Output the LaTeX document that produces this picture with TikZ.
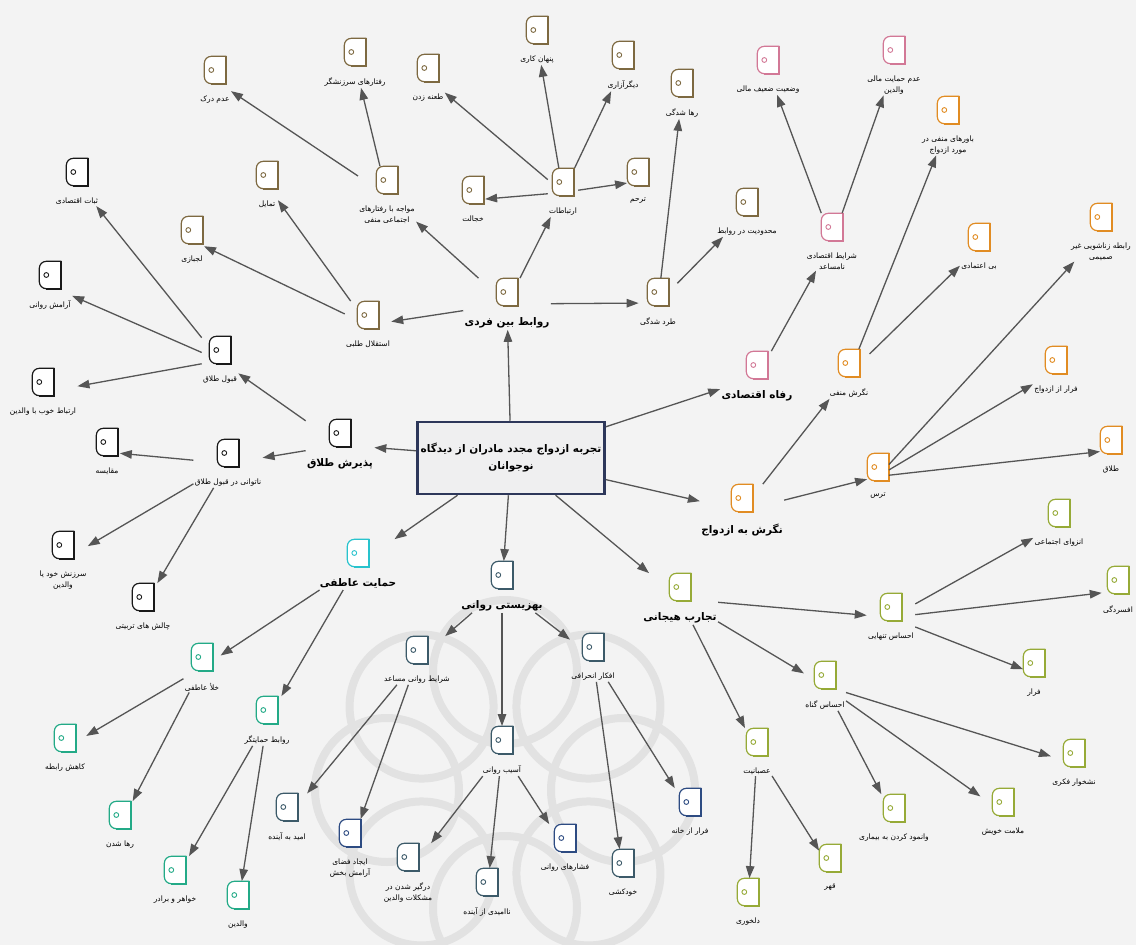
\documentclass[tikz,border=0pt]{standalone}
\usepackage{fontspec}
\usepackage{tikz}
\usetikzlibrary{positioning, arrows.meta, fit}
\TeXXeTstate=1
\newfontfamily\arabicfont[Script=Arabic]{DejaVu Sans}
\newcommand{\fa}[1]{{\arabicfont\beginR #1\endR}}

\definecolor{brownc}{RGB}{125,105,65}
\definecolor{blackc}{RGB}{25,25,25}
\definecolor{cyanc}{RGB}{40,195,205}
\definecolor{tealc}{RGB}{35,170,135}
\definecolor{slatec}{RGB}{60,90,105}
\definecolor{navyc}{RGB}{45,75,130}
\definecolor{greenc}{RGB}{150,170,55}
\definecolor{orangec}{RGB}{225,140,35}
\definecolor{pinkc}{RGB}{210,120,150}
\definecolor{arrowc}{RGB}{85,85,85}
\definecolor{bgc}{RGB}{243,243,243}
\definecolor{wmarkc}{RGB}{226,226,226}
\definecolor{boxc}{RGB}{45,55,90}

% one concept: icon, label under it, frame round both
\newcommand{\concept}[5][tagtext]{%
  \node[tagicon] (#2-i) at (#3) {};
  \draw[tagline=#4] (#2-i.north east) -- ([xshift=7pt]#2-i.north west)
    arc[start angle=90, end angle=180, radius=7pt] -- ([yshift=7pt]#2-i.south west)
    arc[start angle=180, end angle=270, radius=7pt] -- (#2-i.south east) -- cycle;
  \draw[#4, line width=2.2pt] (#2-i.north east) -- (#2-i.south east) -- ([xshift=7pt]#2-i.south west);
  \draw[#4, line width=0.9pt] ([xshift=7pt]#2-i.west) circle[radius=2.4pt];
  \node[#1, below=of #2-i] (#2-t) {#5};
  \node[group, fit=(#2-i)(#2-t)] (#2) {};
}

\begin{document}
\begin{tikzpicture}[x=1pt, y=-1pt, node distance=11pt,
    tagicon/.style={minimum width=21pt, minimum height=27pt, inner sep=0pt},
    tagline/.style={draw=#1, fill=white, line width=1.2pt},
    tagtext/.style={font=\fontsize{7.5}{10.5}\selectfont, align=center, inner sep=1pt},
    headtext/.style={font=\fontsize{10.5}{12}\selectfont\bfseries, align=center, inner sep=1pt},
    group/.style={inner sep=0pt},
    mainbox/.style={draw=boxc, line width=2.5pt, fill=blue!4!gray!12,
      minimum width=176pt, minimum height=72pt, align=center,
      font=\fontsize{10.5}{17}\selectfont\bfseries},
    wmark/.style={draw=wmarkc, line width=8pt},
    arrow/.style={draw=arrowc, line width=1.3pt, -{Triangle[length=12pt, width=8.5pt]}}]

  % background
  \fill[bgc] (0,0) rectangle (1136,945);
  \useasboundingbox (0,0) rectangle (1136,945);
  \begin{scope}
    \clip (0,0) rectangle (1136,945);
    \foreach \a in {0,45,...,315}
      \draw[wmark] (505,790) ++(\a:118) circle[radius=72];
  \end{scope}

  % core
  \node[mainbox] (main) at (511,458) {\fa{تجربه ازدواج مجدد مادران از دیدگاه}\\\fa{نوجوانان}};

  % themes
  \concept[headtext]{rb}{507,292}{brownc}{\fa{روابط بین فردی}}
  \concept[headtext]{pt}{340,433}{blackc}{\fa{پذیرش طلاق}}
  \concept[headtext]{ha}{358,553}{cyanc}{\fa{حمایت عاطفی}}
  \concept[headtext]{br}{502,575}{slatec}{\fa{بهزیستی روانی}}
  \concept[headtext]{th}{680,587}{greenc}{\fa{تجارب هیجانی}}
  \concept[headtext]{ne}{742,498}{orangec}{\fa{نگرش به ازدواج}}
  \concept[headtext]{re}{757,365}{pinkc}{\fa{رفاه اقتصادی}}

  % interpersonal relations
  \concept{rb-est}{368,315}{brownc}{\fa{استقلال طلبی}}
  \concept{rb-tam}{267,175}{brownc}{\fa{تمایل}}
  \concept{rb-laj}{192,230}{brownc}{\fa{لجبازی}}
  \concept{rb-mov}{387,180}{brownc}{\fa{مواجه با رفتارهای}\\\fa{اجتماعی منفی}}
  \concept{rb-adm}{215,70}{brownc}{\fa{عدم درک}}
  \concept{rb-sar}{355,52}{brownc}{\fa{رفتارهای سرزنشگر}}
  \concept{rb-ert}{563,182}{brownc}{\fa{ارتباطات}}
  \concept{rb-tan}{428,68}{brownc}{\fa{طعنه زدن}}
  \concept{rb-pen}{537,30}{brownc}{\fa{پنهان کاری}}
  \concept{rb-dig}{623,55}{brownc}{\fa{دیگرآزاری}}
  \concept{rb-khe}{473,190}{brownc}{\fa{خجالت}}
  \concept{rb-tar}{638,172}{brownc}{\fa{ترحم}}
  \concept{rb-tard}{658,292}{brownc}{\fa{طرد شدگی}}
  \concept{rb-raha}{682,83}{brownc}{\fa{رها شدگی}}
  \concept{rb-mah}{747,202}{brownc}{\fa{محدودیت در روابط}}

  % divorce acceptance
  \concept{pt-qab}{220,350}{blackc}{\fa{قبول طلاق}}
  \concept{pt-sab}{77,172}{blackc}{\fa{ثبات اقتصادی}}
  \concept{pt-ara}{50,275}{blackc}{\fa{آرامش روانی}}
  \concept{pt-ert}{43,382}{blackc}{\fa{ارتباط خوب با والدین}}
  \concept{pt-nat}{228,453}{blackc}{\fa{ناتوانی در قبول طلاق}}
  \concept{pt-moq}{107,442}{blackc}{\fa{مقایسه}}
  \concept{pt-srz}{63,545}{blackc}{\fa{سرزنش خود یا}\\\fa{والدین}}
  \concept{pt-cha}{143,597}{blackc}{\fa{چالش های تربیتی}}

  % emotional support
  \concept{ha-khl}{202,657}{tealc}{\fa{خلأ عاطفی}}
  \concept{ha-kah}{65,738}{tealc}{\fa{کاهش رابطه}}
  \concept{ha-rah}{120,815}{tealc}{\fa{رها شدن}}
  \concept{ha-rav}{267,710}{tealc}{\fa{روابط حمایتگر}}
  \concept{ha-kha}{175,870}{tealc}{\fa{خواهر و برادر}}
  \concept{ha-val}{238,895}{tealc}{\fa{والدین}}

  % psychological well-being
  \concept{br-sha}{417,650}{slatec}{\fa{شرایط روانی مساعد}}
  \concept{br-omd}{287,807}{slatec}{\fa{امید به آینده}}
  \concept{br-ijd}{350,833}{navyc}{\fa{ایجاد فضای}\\\fa{آرامش بخش}}
  \concept{br-asb}{502,740}{slatec}{\fa{آسیب روانی}}
  \concept{br-drg}{408,857}{slatec}{\fa{درگیر شدن در}\\\fa{مشکلات والدین}}
  \concept{br-naa}{487,882}{slatec}{\fa{ناامیدی از آینده}}
  \concept{br-fsh}{565,838}{navyc}{\fa{فشارهای روانی}}
  \concept{br-afk}{593,647}{slatec}{\fa{افکار انحرافی}}
  \concept{br-frr}{690,802}{navyc}{\fa{فرار از خانه}}
  \concept{br-khd}{623,863}{slatec}{\fa{خودکشی}}

  % emotional experiences
  \concept{th-tnh}{891,607}{greenc}{\fa{احساس تنهایی}}
  \concept{th-anz}{1059,513}{greenc}{\fa{انزوای اجتماعی}}
  \concept{th-afs}{1118,580}{greenc}{\fa{افسردگی}}
  \concept{th-far}{1034,663}{greenc}{\fa{فرار}}
  \concept{th-gon}{825,675}{greenc}{\fa{احساس گناه}}
  \concept{th-nsh}{1074,753}{greenc}{\fa{نشخوار فکری}}
  \concept{th-mlm}{1003,802}{greenc}{\fa{ملامت خویش}}
  \concept{th-vnm}{894,808}{greenc}{\fa{وانمود کردن به بیماری}}
  \concept{th-asb}{757,742}{greenc}{\fa{عصبانیت}}
  \concept{th-del}{748,892}{greenc}{\fa{دلخوری}}
  \concept{th-qhr}{830,858}{greenc}{\fa{قهر}}

  % attitude to marriage
  \concept{ne-mnf}{849,363}{orangec}{\fa{نگرش منفی}}
  \concept{ne-bav}{948,110}{orangec}{\fa{باورهای منفی در}\\\fa{مورد ازدواج}}
  \concept{ne-bie}{979,237}{orangec}{\fa{بی اعتمادی}}
  \concept{ne-trs}{878,467}{orangec}{\fa{ترس}}
  \concept{ne-zan}{1101,217}{orangec}{\fa{رابطه زناشویی غیر}\\\fa{صمیمی}}
  \concept{ne-far}{1056,360}{orangec}{\fa{فرار از ازدواج}}
  \concept{ne-tal}{1111,440}{orangec}{\fa{طلاق}}

  % economic welfare
  \concept{re-sha}{832,227}{pinkc}{\fa{شرایط اقتصادی}\\\fa{نامساعد}}
  \concept{re-vaz}{768,60}{pinkc}{\fa{وضعیت ضعیف مالی}}
  \concept{re-adm}{894,50}{pinkc}{\fa{عدم حمایت مالی}\\\fa{والدین}}

  % arrows
  \draw[arrow] (main) -- (rb);
  \draw[arrow] (main) -- (pt);
  \draw[arrow] (main) -- (ha);
  \draw[arrow] (main) -- (br);
  \draw[arrow] (main) -- (th);
  \draw[arrow] (main) -- (ne);
  \draw[arrow] (main) -- (re);

  \draw[arrow] (rb) -- (rb-est);
  \draw[arrow] (rb) -- (rb-mov);
  \draw[arrow] (rb) -- (rb-ert);
  \draw[arrow] (rb) -- (rb-tard);
  \draw[arrow] (rb-est) -- (rb-tam);
  \draw[arrow] (rb-est) -- (rb-laj);
  \draw[arrow] (rb-mov) -- (rb-adm);
  \draw[arrow] (rb-mov) -- (rb-sar);
  \draw[arrow] (rb-ert) -- (rb-tan);
  \draw[arrow] (rb-ert) -- (rb-pen);
  \draw[arrow] (rb-ert) -- (rb-dig);
  \draw[arrow] (rb-ert) -- (rb-khe);
  \draw[arrow] (rb-ert) -- (rb-tar);
  \draw[arrow] (rb-tard) -- (rb-raha);
  \draw[arrow] (rb-tard) -- (rb-mah);

  \draw[arrow] (pt) -- (pt-qab);
  \draw[arrow] (pt) -- (pt-nat);
  \draw[arrow] (pt-qab) -- (pt-sab);
  \draw[arrow] (pt-qab) -- (pt-ara);
  \draw[arrow] (pt-qab) -- (pt-ert);
  \draw[arrow] (pt-nat) -- (pt-moq);
  \draw[arrow] (pt-nat) -- (pt-srz);
  \draw[arrow] (pt-nat) -- (pt-cha);

  \draw[arrow] (ha) -- (ha-khl);
  \draw[arrow] (ha) -- (ha-rav);
  \draw[arrow] (ha-khl) -- (ha-kah);
  \draw[arrow] (ha-khl) -- (ha-rah);
  \draw[arrow] (ha-rav) -- (ha-kha);
  \draw[arrow] (ha-rav) -- (ha-val);

  \draw[arrow] (br) -- (br-sha);
  \draw[arrow] (br) -- (br-asb);
  \draw[arrow] (br) -- (br-afk);
  \draw[arrow] (br-sha) -- (br-omd);
  \draw[arrow] (br-sha) -- (br-ijd);
  \draw[arrow] (br-asb) -- (br-drg);
  \draw[arrow] (br-asb) -- (br-naa);
  \draw[arrow] (br-asb) -- (br-fsh);
  \draw[arrow] (br-afk) -- (br-frr);
  \draw[arrow] (br-afk) -- (br-khd);

  \draw[arrow] (th) -- (th-tnh);
  \draw[arrow] (th) -- (th-gon);
  \draw[arrow] (th) -- (th-asb);
  \draw[arrow] (th-tnh) -- (th-anz);
  \draw[arrow] (th-tnh) -- (th-afs);
  \draw[arrow] (th-tnh) -- (th-far);
  \draw[arrow] (th-gon) -- (th-nsh);
  \draw[arrow] (th-gon) -- (th-mlm);
  \draw[arrow] (th-gon) -- (th-vnm);
  \draw[arrow] (th-asb) -- (th-del);
  \draw[arrow] (th-asb) -- (th-qhr);

  \draw[arrow] (ne) -- (ne-mnf);
  \draw[arrow] (ne) -- (ne-trs);
  \draw[arrow] (ne-mnf) -- (ne-bav);
  \draw[arrow] (ne-mnf) -- (ne-bie);
  \draw[arrow] (ne-trs) -- (ne-zan);
  \draw[arrow] (ne-trs) -- (ne-far);
  \draw[arrow] (ne-trs) -- (ne-tal);

  \draw[arrow] (re) -- (re-sha);
  \draw[arrow] (re-sha) -- (re-vaz);
  \draw[arrow] (re-sha) -- (re-adm);
\end{tikzpicture}
\end{document}
